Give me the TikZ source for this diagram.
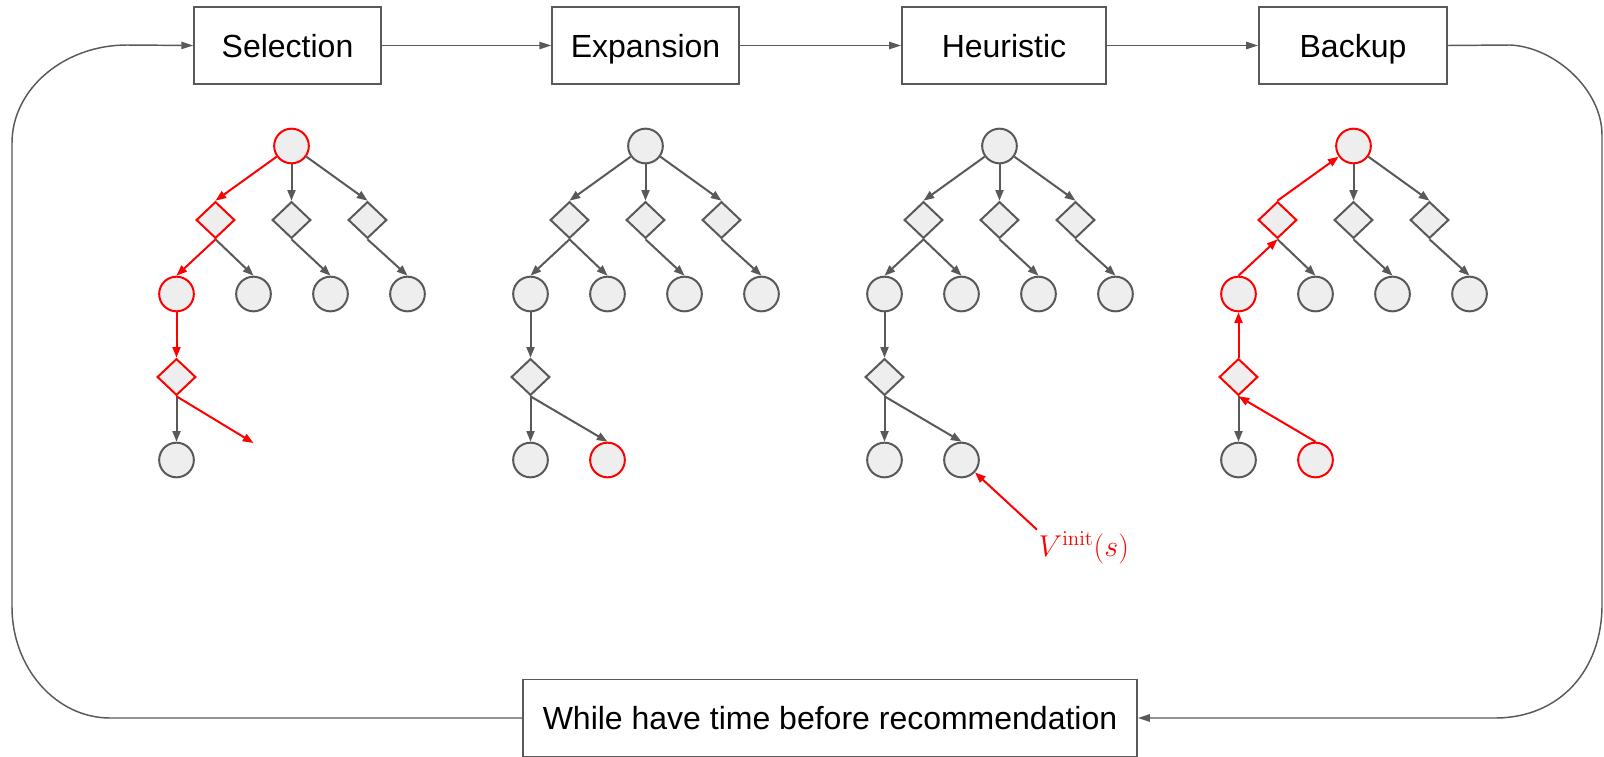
\documentclass[tikz,border=0pt]{standalone}
\usepackage[no-math]{fontspec}
\setmainfont{Liberation Sans}
\usetikzlibrary{shapes.geometric,arrows.meta}

\definecolor{edgegray}{RGB}{89,89,89}
\definecolor{nodefill}{RGB}{238,238,238}

\tikzset{every picture/.style={line width=0.75pt}}
\tikzset{
  state/.style={circle,draw=edgegray,fill=nodefill,line width=1.5pt,minimum size=26pt,inner sep=0pt},
  chance/.style={diamond,draw=edgegray,fill=nodefill,line width=1.5pt,minimum width=29pt,minimum height=27.5pt,inner sep=0pt},
  hot/.style={draw=red},
  phase/.style={draw=edgegray,line width=1.3pt,minimum width=140pt,minimum height=57.75pt,inner sep=0pt,text height=17.3pt,text depth=0pt,font=\fontsize{24}{28}\selectfont},
  branch/.style={draw=edgegray,line width=1.5pt,-{Triangle[length=8pt,width=6pt]}},
  hotbranch/.style={branch,draw=red},
  flow/.style={draw=edgegray,line width=1.1pt,-{Triangle[length=9pt,width=5.5pt]}},
}

\begin{document}
\begin{tikzpicture}[x=0.75pt,y=0.75pt,yscale=-1,xscale=1]
\useasboundingbox (0,0) rectangle (1604,757);

% Phase boxes
\node[phase] (sel) at (287.5,45.5) {Selection};
\node[phase] (exp) at (645.5,45.5) {Expansion};
\node[phase,minimum width=153pt] (heu) at (1004,45.5) {Heuristic};
\node[phase,minimum width=141pt] (back) at (1353,45.5) {Backup};
\node[phase,minimum width=460.5pt] (loopbox) at (830,718) {While have time before recommendation};

\draw[flow] (sel) -- (exp);
\draw[flow] (exp) -- (heu);
\draw[flow] (heu) -- (back);

% loop back round the outside
\draw[flow] (loopbox.west) -- (110,718) .. controls (56,718) and (12,668) .. (12,607) -- (12,143) .. controls (12,89) and (64,45) .. (127,45) -- (sel.west);
\draw[flow] (back.east) -- (1510,45) .. controls (1555,47) and (1602,90) .. (1602,135) -- (1602,605) .. controls (1602,670) and (1560,718) .. (1495,718) -- (loopbox.east);

%Tree: selection
\begin{scope}[shift={(291.5,146)}]
\node[state,hot] (s-r) at (0,0) {};
\node[chance,hot] (s-d1) at (-76,74) {};
\node[chance] (s-d2) at (0,74) {};
\node[chance] (s-d3) at (76,74) {};
\node[state,hot] (s-c1) at (-115,148) {};
\node[state] (s-c2) at (-38,148) {};
\node[state] (s-c3) at (39,148) {};
\node[state] (s-c4) at (116,148) {};
\node[chance,hot] (s-d4) at (-115,231) {};
\node[state] (s-c5) at (-115,314) {};
\coordinate (s-new) at (-38,297);
\end{scope}
\draw[branch] (s-r) -- (s-d2.north);
\draw[branch] (s-r) -- (s-d3.north);
\draw[branch] (s-d1.south) -- (s-c2.north);
\draw[branch] (s-d2.south) -- (s-c3.north);
\draw[branch] (s-d3.south) -- (s-c4.north);
\draw[branch] (s-d4.south) -- (s-c5.north);
\draw[hotbranch] (s-r) -- (s-d1.north);
\draw[hotbranch] (s-d1.south) -- (s-c1.north);
\draw[hotbranch] (s-c1) -- (s-d4.north);
\draw[hotbranch] (s-d4.south) -- (s-new);

%Tree: expansion
\begin{scope}[shift={(645.5,146)}]
\node[state] (e-r) at (0,0) {};
\node[chance] (e-d1) at (-76,74) {};
\node[chance] (e-d2) at (0,74) {};
\node[chance] (e-d3) at (76,74) {};
\node[state] (e-c1) at (-115,148) {};
\node[state] (e-c2) at (-38,148) {};
\node[state] (e-c3) at (39,148) {};
\node[state] (e-c4) at (116,148) {};
\node[chance] (e-d4) at (-115,231) {};
\node[state] (e-c5) at (-115,314) {};
\node[state,hot] (e-c6) at (-38,314) {};
\end{scope}
\draw[branch] (e-r) -- (e-d1.north);
\draw[branch] (e-r) -- (e-d2.north);
\draw[branch] (e-r) -- (e-d3.north);
\draw[branch] (e-d1.south) -- (e-c1.north);
\draw[branch] (e-d1.south) -- (e-c2.north);
\draw[branch] (e-d2.south) -- (e-c3.north);
\draw[branch] (e-d3.south) -- (e-c4.north);
\draw[branch] (e-c1) -- (e-d4.north);
\draw[branch] (e-d4.south) -- (e-c5.north);
\draw[branch] (e-d4.south) -- (e-c6.north);

%Tree: heuristic
\begin{scope}[shift={(999.5,146)}]
\node[state] (h-r) at (0,0) {};
\node[chance] (h-d1) at (-76,74) {};
\node[chance] (h-d2) at (0,74) {};
\node[chance] (h-d3) at (76,74) {};
\node[state] (h-c1) at (-115,148) {};
\node[state] (h-c2) at (-38,148) {};
\node[state] (h-c3) at (39,148) {};
\node[state] (h-c4) at (116,148) {};
\node[chance] (h-d4) at (-115,231) {};
\node[state] (h-c5) at (-115,314) {};
\node[state] (h-c6) at (-38,314) {};
\end{scope}
\draw[branch] (h-r) -- (h-d1.north);
\draw[branch] (h-r) -- (h-d2.north);
\draw[branch] (h-r) -- (h-d3.north);
\draw[branch] (h-d1.south) -- (h-c1.north);
\draw[branch] (h-d1.south) -- (h-c2.north);
\draw[branch] (h-d2.south) -- (h-c3.north);
\draw[branch] (h-d3.south) -- (h-c4.north);
\draw[branch] (h-c1) -- (h-d4.north);
\draw[branch] (h-d4.south) -- (h-c5.north);
\draw[branch] (h-d4.south) -- (h-c6.north);

% Text Node
\node[anchor=base west,inner sep=0.75pt,text=red,font=\fontsize{20.74}{25}\selectfont] (vinit) at (1037,556) {\scalebox{1.09}{$V^{\mathrm{init}}(s)$}};
\draw[hotbranch] (vinit.north west) -- (h-c6);

%Tree: backup
\begin{scope}[shift={(1353.5,146)}]
\node[state,hot] (b-r) at (0,0) {};
\node[chance,hot] (b-d1) at (-76,74) {};
\node[chance] (b-d2) at (0,74) {};
\node[chance] (b-d3) at (76,74) {};
\node[state,hot] (b-c1) at (-115,148) {};
\node[state] (b-c2) at (-38,148) {};
\node[state] (b-c3) at (39,148) {};
\node[state] (b-c4) at (116,148) {};
\node[chance,hot] (b-d4) at (-115,231) {};
\node[state] (b-c5) at (-115,314) {};
\node[state,hot] (b-c6) at (-38,314) {};
\end{scope}
\draw[branch] (b-r) -- (b-d2.north);
\draw[branch] (b-r) -- (b-d3.north);
\draw[branch] (b-d1.south) -- (b-c2.north);
\draw[branch] (b-d2.south) -- (b-c3.north);
\draw[branch] (b-d3.south) -- (b-c4.north);
\draw[branch] (b-d4.south) -- (b-c5.north);
\draw[hotbranch] (b-d1.north) -- (b-r);
\draw[hotbranch] (b-c1.north) -- (b-d1.south);
\draw[hotbranch] (b-d4.north) -- (b-c1);
\draw[hotbranch] (b-c6.north) -- (b-d4.south);

\end{tikzpicture}
\end{document}
